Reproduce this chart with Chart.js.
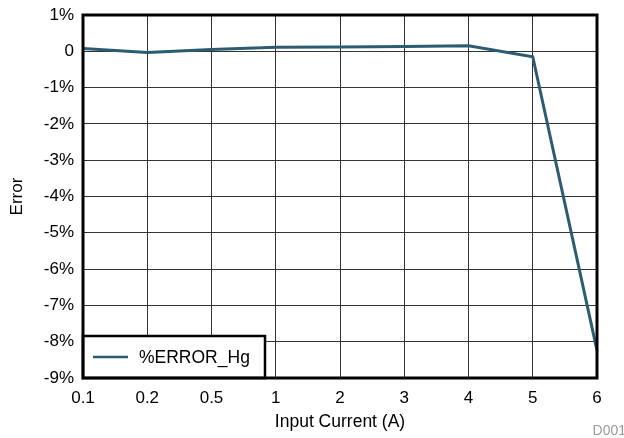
<!DOCTYPE html>
<html>
<head>
<meta charset="utf-8">
<script src="https://cdn.jsdelivr.net/npm/chart.js@4.4.1/dist/chart.umd.min.js"></script>
<style>
  html, body { margin: 0; padding: 0; background: #fff; }
  #wrap { width: 624px; height: 438px; }
</style>
</head>
<body>
<div id="wrap"><canvas id="errChart"></canvas></div>
<script>
const currents = ['0.1', '0.2', '0.5', '1', '2', '3', '4', '5', '6'];
const errorHg = [0.08, -0.03, 0.05, 0.11, 0.12, 0.13, 0.15, -0.15, -8.24];
const seriesName = '%ERROR_Hg';
const lineColor = '#2b5c72';
const fontFam = '"Liberation Sans", Arial, sans-serif';

// legend box in bottom-left corner + plot border + figure id
const extras = {
    id: 'extras',
    afterDraw(chart) {
        const ctx = chart.ctx;
        const a = chart.chartArea;
        ctx.save();
        // legend
        const bx = a.left, by = a.bottom - 42, bw = 182, bh = 42;
        ctx.fillStyle = '#fff';
        ctx.fillRect(bx, by, bw, bh);
        ctx.lineWidth = 2.5;
        ctx.strokeStyle = '#000';
        ctx.strokeRect(bx, by, bw, bh);
        ctx.strokeStyle = lineColor;
        ctx.lineWidth = 2.5;
        ctx.beginPath();
        ctx.moveTo(bx + 10, by + 21);
        ctx.lineTo(bx + 45, by + 21);
        ctx.stroke();
        ctx.fillStyle = '#000';
        ctx.font = '17.5px ' + fontFam;
        ctx.textBaseline = 'middle';
        ctx.fillText(seriesName, bx + 56, by + 22);
        // border
        ctx.lineWidth = 3;
        ctx.strokeStyle = '#000';
        ctx.strokeRect(a.left, a.top, a.right - a.left, a.bottom - a.top);
        // id
        ctx.fillStyle = '#9a9a9a';
        ctx.font = '14px ' + fontFam;
        ctx.textAlign = 'right';
        ctx.fillText('D001', 626, 431);
        ctx.restore();
    }
};

new Chart(document.getElementById('errChart'), {
    type: 'line',
    data: {
        labels: currents,
        datasets: [{
            label: seriesName,
            data: errorHg,
            borderColor: lineColor,
            borderWidth: 3,
            pointRadius: 0,
            tension: 0,
            fill: false
        }]
    },
    options: {
        responsive: true,
        maintainAspectRatio: false,
        animation: false,
        layout: { padding: { top: 15, right: 27, left: 0, bottom: 0 } },
        plugins: {
            legend: { display: false },
            tooltip: { enabled: false }
        },
        scales: {
            x: {
                offset: false,
                afterFit: (s) => { s.height = 60; s.paddingLeft = 0; s.paddingRight = 0; },
                grid: { color: '#333', lineWidth: 1, drawTicks: false },
                border: { display: false },
                ticks: {
                    color: '#000',
                    padding: 10,
                    maxRotation: 0,
                    font: { family: fontFam, size: 17 }
                },
                title: {
                    display: true,
                    text: 'Input Current (A)',
                    color: '#000',
                    padding: { top: 0, bottom: 5 },
                    font: { family: fontFam, size: 17.5 }
                }
            },
            y: {
                min: -9,
                max: 1,
                afterFit: (s) => { s.width = 83; s.paddingTop = 0; s.paddingBottom = 0; },
                grid: { color: '#333', lineWidth: 1, drawTicks: false },
                border: { display: false },
                ticks: {
                    stepSize: 1,
                    color: '#000',
                    padding: 9,
                    font: { family: fontFam, size: 17 },
                    callback: (v) => v === 0 ? '0' : v + '%'
                },
                title: {
                    display: true,
                    text: 'Error',
                    color: '#000',
                    padding: { top: 7, bottom: 0 },
                    font: { family: fontFam, size: 17 }
                }
            }
        }
    },
    plugins: [extras]
});
</script>
</body>
</html>
